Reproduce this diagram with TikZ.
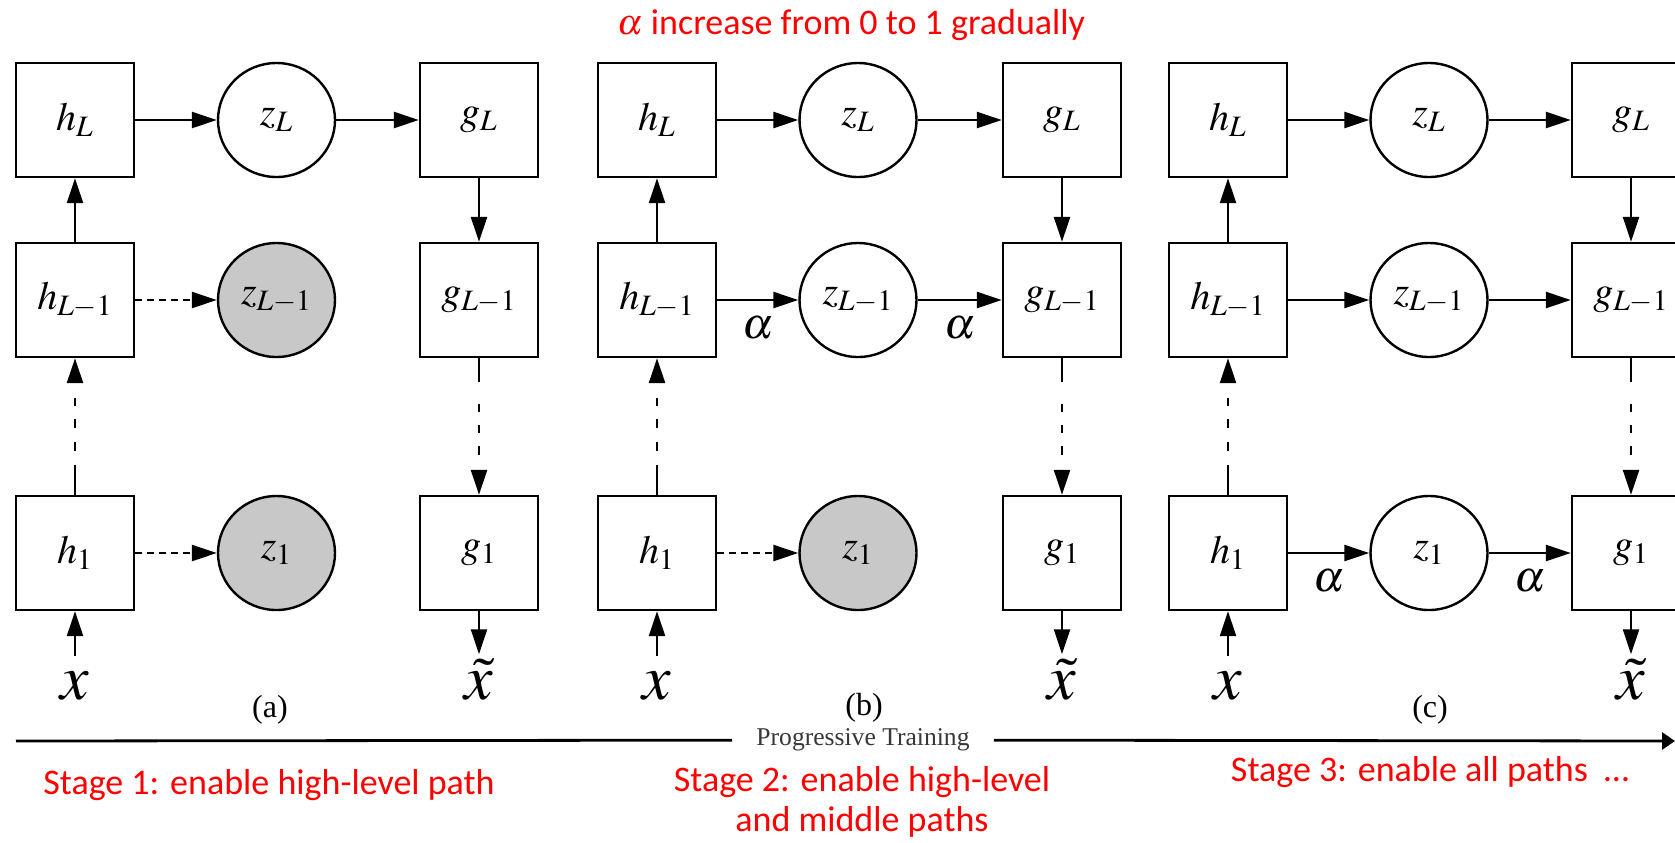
\documentclass[tikz,border=0pt]{standalone}
\usepackage{mathptmx}
\usepackage{fontspec}
\setmainfont{Liberation Serif}
\newfontfamily\calibfont{Carlito}
\usetikzlibrary{arrows.meta,shapes.geometric}

\definecolor{latgray}{RGB}{200,200,200}
\definecolor{redtext}{RGB}{255,0,0}
\definecolor{progtext}{RGB}{55,55,55}

\tikzset{
  box/.style={draw, line width=1.2pt, minimum width=59pt, minimum height=57pt,
    inner sep=0pt, font=\fontsize{20}{24}\selectfont},
  lat/.style={draw, ellipse, line width=1.2pt, minimum width=58.5pt, minimum height=57pt,
    inner sep=0pt, font=\fontsize{20}{24}\selectfont},
  conn/.style={line width=1.2pt, -{Triangle[length=12.5pt,width=8pt]}},
  dashconn/.style={conn, dash pattern=on 3.5pt off 2.5pt},
  dotupconn/.style={conn, dash pattern=on 15pt off 7pt on 4.5pt off 7pt on 4.5pt off 6.5pt on 4pt off 40pt},
  dotdownconn/.style={conn, dash pattern=on 12pt off 11pt on 4pt off 6.5pt on 4pt off 6.5pt on 4.5pt off 40pt},
  alab/.style={midway, yshift=-14pt, inner sep=0pt, font=\fontsize{22}{26}\selectfont},
  inlab/.style={anchor=base, inner xsep=0pt, inner ysep=7.5pt, font=\fontsize{32}{36}\selectfont},
  outlab/.style={anchor=base, inner xsep=0pt, inner ysep=2pt, font=\fontsize{32}{36}\selectfont},
  subcap/.style={inner sep=0pt, font=\fontsize{16}{18}\selectfont},
  redtxt/.style={inner sep=0pt, text=redtext, font=\calibfont\fontsize{18}{20}\selectfont},
  progtxt/.style={inner xsep=12pt, inner ysep=0pt, text=progtext, font=\fontsize{12.8}{14}\selectfont},
  progline/.style={line width=1.4pt},
}

\begin{document}
\begin{tikzpicture}[x=0.5pt,y=-0.5pt]
\useasboundingbox (0,0) rectangle (1675,842);
\fill[white] (0,0) rectangle (1675,842);
\clip (0,0) rectangle (1675,842);

% three copies of the encoder / latent / decoder ladder
\foreach \p/\hx/\zx/\gx/\zm/\zb in {a/75/276.5/479/latgray/latgray,
                                     b/657/858/1062/white/latgray,
                                     c/1228/1429/1631/white/white} {
  \node[box] (\p hL) at (\hx,120) {$h_L$};
  \node[box] (\p hM) at (\hx,300) {$h_{L-1}$};
  \node[box] (\p hB) at (\hx,553) {$h_1$};
  \node[lat] (\p zL) at (\zx,120) {$z_L$};
  \node[lat, fill=\zm] (\p zM) at (\zx,300) {$z_{L-1}$};
  \node[lat, fill=\zb] (\p zB) at (\zx,553) {$z_1$};
  \node[box] (\p gL) at (\gx,120) {$g_L$};
  \node[box] (\p gM) at (\gx,300) {$g_{L-1}$};
  \node[box] (\p gB) at (\gx,553) {$g_1$};
  \node[inlab] (\p x) at (\hx,699) {$x$};
  \node[outlab] (\p xt) at (\gx,699) {$\tilde{x}$};
  \draw[conn] (\p hM) -- (\p hL);
  \draw[dotupconn] (\p hB) -- (\p hM);
  \draw[conn] (\p x) -- (\p hB);
  \draw[conn] (\p gL) -- (\p gM);
  \draw[dotdownconn] (\p gM) -- (\p gB);
  \draw[conn] (\p gB) -- (\p xt);
  \draw[conn] (\p hL) -- (\p zL);
  \draw[conn] (\p zL) -- (\p gL);
}

% stage 1: lower paths switched off
\draw[dashconn] (ahM) -- (azM);
\draw[dashconn] (ahB) -- (azB);

% stage 2: middle path faded in by alpha
\draw[conn] (bhM) -- node[alab] {$\alpha$} (bzM);
\draw[conn] (bzM) -- node[alab] {$\alpha$} (bgM);
\draw[dashconn] (bhB) -- (bzB);

% stage 3: all paths, lowest faded in by alpha
\draw[conn] (chM) -- (czM);
\draw[conn] (czM) -- (cgM);
\draw[conn] (chB) -- node[alab] {$\alpha$} (czB);
\draw[conn] (czB) -- node[alab] {$\alpha$} (cgB);

% sub-figure captions
\node[subcap] (capa) at (270,710) {(a)};
\node[subcap] (capb) at (864,708) {(b)};
\node[subcap] (capc) at (1430,710) {(c)};

% progressive training axis
\coordinate (pstart) at (16,741);
\coordinate (pend) at (1675,741);
\node[progtxt] (prog) at (863,740) {Progressive Training};
\draw[progline] (pstart) -- (prog);
\draw[progline, -{Triangle[length=6.5pt,width=8.5pt]}] (prog) -- (pend);

% annotations
\node[redtxt] (topnote) at (851,25) {$\alpha$ increase from 0 to 1 gradually};
\node[redtxt] (stage1) at (269,785) {Stage 1: enable high-level path};
\node[redtxt, align=center] (stage2) at (862,802) {Stage 2: enable high-level\\and middle paths};
\node[redtxt] (stage3) at (1430,772) {Stage 3: enable all paths\ \ …};
\end{tikzpicture}
\end{document}
